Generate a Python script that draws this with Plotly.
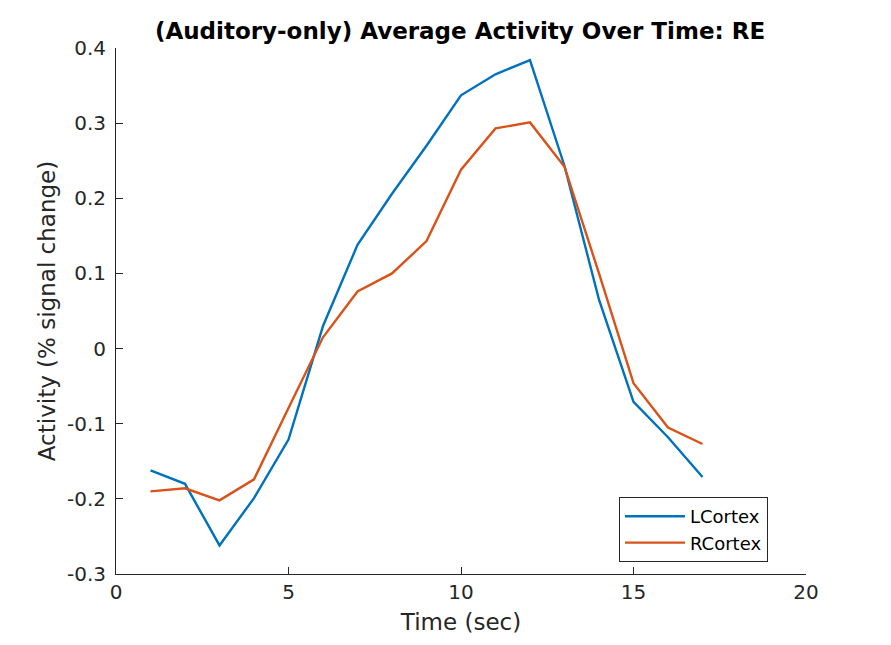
import plotly.graph_objects as go

# time points (sec)
time_sec = list(range(1, 18))

# average activity, % signal change
lcortex = [-0.162, -0.180, -0.262, -0.199, -0.121, 0.030, 0.138, 0.206, 0.270,
           0.337, 0.365, 0.384, 0.243, 0.065, -0.071, -0.118, -0.171]
rcortex = [-0.190, -0.186, -0.202, -0.174, -0.079, 0.015, 0.076, 0.100, 0.143,
           0.238, 0.293, 0.301, 0.242, 0.100, -0.046, -0.105, -0.127]

x_ticks = [0, 5, 10, 15, 20]
y_ticks = [-0.3, -0.2, -0.1, 0, 0.1, 0.2, 0.3, 0.4]
y_tick_labels = ["-0.3", "-0.2", "-0.1", "0", "0.1", "0.2", "0.3", "0.4"]

axis_col = "#262626"
font = "DejaVu Sans"

fig = go.Figure()
fig.add_trace(go.Scatter(
    x=time_sec, y=lcortex, mode="lines", name="LCortex",
    line=dict(color="#0072BD", width=2.4)
))
fig.add_trace(go.Scatter(
    x=time_sec, y=rcortex, mode="lines", name="RCortex",
    line=dict(color="#D95319", width=2.4)
))

axis_common = dict(
    showgrid=False, zeroline=False, showline=True, linecolor=axis_col, linewidth=1,
    ticks="inside", ticklen=7, tickcolor=axis_col, tickwidth=1,
    tickfont=dict(family=font, size=20, color=axis_col), automargin=False,
)

# page body has an 8px margin, so margins are shifted to compensate
fig.update_layout(
    width=891, height=645,
    margin=dict(l=108, r=93, t=40, b=79),
    paper_bgcolor="white", plot_bgcolor="white",
    title=dict(
        text="<b>(Auditory-only) Average Activity Over Time: RE</b>",
        font=dict(family=font, size=23, color="black"),
        x=452 / 891, xanchor="center", xref="container",
        y=1 - 23 / 645, yanchor="middle", yref="container",
    ),
    xaxis=dict(
        range=[0, 20], tickvals=x_ticks,
        title=dict(text="Time (sec)", font=dict(family=font, size=23, color=axis_col), standoff=10),
        **axis_common
    ),
    yaxis=dict(
        range=[-0.3, 0.4], tickvals=y_ticks, ticktext=y_tick_labels, ticklabelstandoff=5,
        title=dict(text="Activity (% signal change)", font=dict(family=font, size=23, color=axis_col), standoff=4),
        **axis_common
    ),
    legend=dict(
        x=(768 - 116) / 690, xanchor="right",
        y=(574 - 562) / 526, yanchor="bottom",
        bgcolor="white", bordercolor=axis_col, borderwidth=1,
        font=dict(family=font, size=18, color="black"),
        tracegroupgap=0, itemwidth=60,
    ),
    showlegend=True,
)

fig.write_html("out.html")
